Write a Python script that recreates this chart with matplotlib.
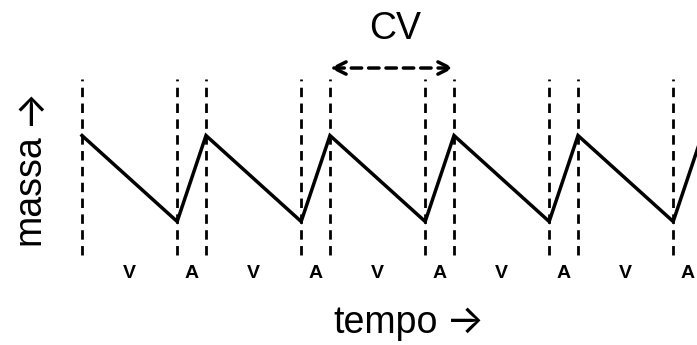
import numpy as np
import matplotlib
matplotlib.use('Agg')
import matplotlib.pyplot as plt

plt.rcParams['font.family'] = ['Liberation Sans', 'DejaVu Sans']

# instantes (tempo) e massa em cada vértice do dente de serra
tempo = [0, 3.3, 4.3, 7.6, 8.6, 11.9, 12.9, 16.2, 17.2, 20.5, 21.5]
massa = [1, 0, 1, 0, 1, 0, 1, 0, 1, 0, 1]

# rótulos das fases e suas posições (meio de cada trecho)
fases = ['V', 'A', 'V', 'A', 'V', 'A', 'V', 'A', 'V', 'A']
pos_fases = [1.65, 3.8, 5.95, 8.1, 10.25, 12.4, 14.55, 16.7, 18.85, 21.0]

# linhas tracejadas verticais (inicio/fim de cada fase)
linhas_v = [0, 3.3, 4.3, 7.6, 8.6, 11.9, 12.9, 16.2, 17.2, 20.5]

# ciclo de vida (CV)
cv_ini, cv_fim = 8.6, 12.9

fig = plt.figure(figsize=(6.97, 3.45), dpi=100)
ax = fig.add_axes([0, 0, 1, 1])
ax.set_xlim(-2.843, 21.326)
ax.set_ylim(-1.436, 2.576)
ax.axis('off')

ax.vlines(linhas_v, -0.39, 1.657, colors='black', linewidth=2.0,
          linestyles=(0, (3.4, 2.3)))
ax.plot(tempo, massa, color='black', linewidth=2.5, solid_joinstyle='miter')

for f, x in zip(fases, pos_fases):
    ax.text(x, -0.61, f, ha='center', va='center', fontsize=14, fontweight='bold')

ax.annotate('', xy=(cv_fim, 1.785), xytext=(cv_ini, 1.785),
            arrowprops=dict(arrowstyle='<->', color='black', lw=2.5,
                            linestyle=(0, (3, 2)), shrinkA=0, shrinkB=0,
                            mutation_scale=22))
ax.text((cv_ini + cv_fim) / 2 + 0.1, 2.24, 'CV', ha='center', va='center', fontsize=27)

# rótulos dos eixos (seta desenhada com a fonte Inter)
fig.text(0.478, 0.035, 'tempo', ha='left', va='baseline', fontsize=27)
fig.text(0.668, 0.035, '→', ha='center', va='baseline', fontsize=29,
         family=['Inter', 'DejaVu Sans'])
fig.text(0.042, 0.449, 'massa', ha='center', va='center', rotation=90, fontsize=27)
fig.text(0.042, 0.693, '→', ha='center', va='center', rotation=90, fontsize=29,
         family=['Inter', 'DejaVu Sans'])

plt.savefig('out.png', dpi=100)
